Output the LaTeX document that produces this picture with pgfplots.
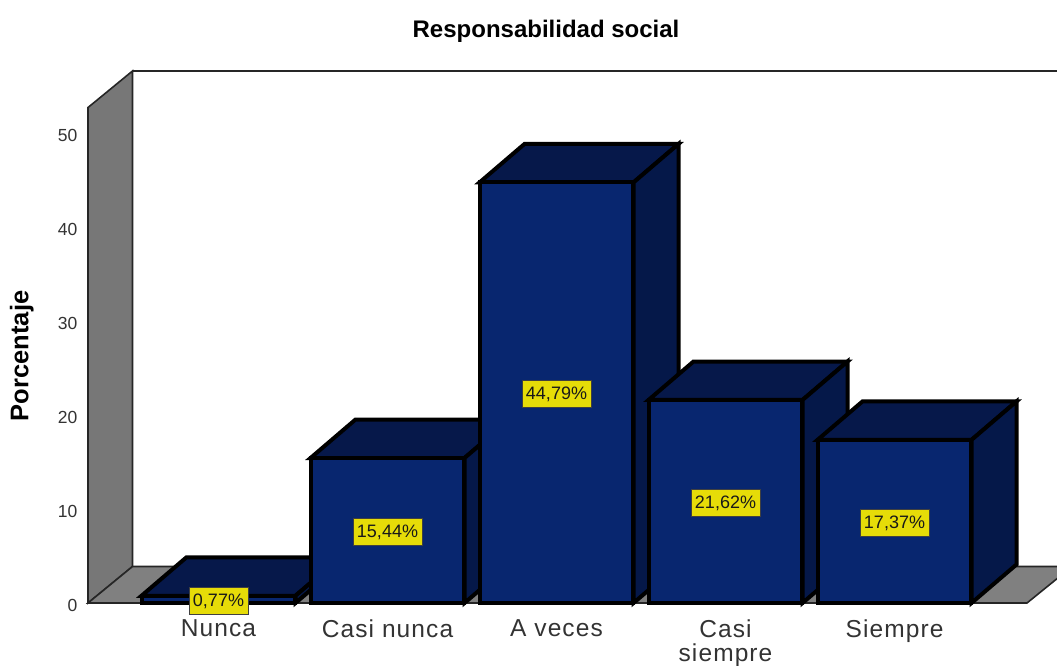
\documentclass[border=0pt]{standalone}
\usepackage{pgfplots}
\pgfplotsset{compat=1.18}
\usepackage{fontspec}
\setmainfont{Liberation Sans}
\newfontfamily\catfont[LetterSpace=4.5]{Liberation Sans}
\definecolor{barfront}{HTML}{08266F}
\definecolor{bartop}{HTML}{06184A}
\definecolor{barside}{HTML}{051849}
\definecolor{wallgray}{HTML}{777777}
\definecolor{floorgray}{HTML}{808080}
\definecolor{lblyellow}{HTML}{E6DC08}
\definecolor{tickgray}{HTML}{333333}
\pgfplotsset{
  front/.style={ybar, bar width=153.5pt, bar shift=0pt, fill=barfront, draw=black, line width=4pt},
  topface/.style={fill=bartop, draw=black, line width=4pt, mark=none},
  sideface/.style={fill=barside, draw=black, line width=4pt, mark=none},
}
\begin{document}
\begin{tikzpicture}
\begin{axis}[
    scale only axis,
    width=969pt, height=532pt,
    xmin=-0.7722, xmax=4.9615,
    ymin=0, ymax=56.66,
    clip=false,
    axis line style={draw=none},
    tick style={draw=none},
    xtick={0,1,2,3,4},
    xticklabels={Nunca,Casi nunca,A veces,{Casi\\siempre},Siempre},
    ytick={0,10,20,30,40,50},
    /pgf/number format/assume math mode=true,
    xticklabel style={font=\catfont\fontsize{24.5}{24}\selectfont, text=tickgray, align=center, anchor=north, yshift=-13pt},
    yticklabel style={font=\fontsize{17.5}{20}\selectfont, text=tickgray, anchor=east, xshift=-7pt, yshift=-2pt},
    ylabel={\textbf{Porcentaje}},
    every axis y label/.style={at={(axis description cs:-0.0682,0.4645)}, rotate=90, anchor=center, font=\fontsize{25.5}{28}\selectfont},
]
% walls and floor
\addplot[fill=wallgray, draw=black!85, line width=1.6pt, mark=none] coordinates {(-0.7722,0) (-0.5089,3.887) (-0.5089,56.66) (-0.7722,52.77)} -- cycle;
\addplot[fill=floorgray, draw=black!85, line width=1.6pt, mark=none] coordinates {(-0.7722,0) (-0.5089,3.887) (5.0503,3.887) (4.7840,0)} -- cycle;
\addplot[draw=black!85, line width=1.6pt, mark=none] coordinates {(-0.5089,56.66) (5.0503,56.66)};

% Nunca
\addplot[topface] coordinates {(-0.4556,0.77) (0.4556,0.77) (0.7219,4.87) (-0.1893,4.87)} -- cycle;
\addplot[sideface] coordinates {(0.4556,0) (0.7219,4.1) (0.7219,4.87) (0.4556,0.77)} -- cycle;
\addplot[front] coordinates {(0,0.77)};
% Casi nunca
\addplot[topface] coordinates {(0.5444,15.44) (1.4556,15.44) (1.7219,19.54) (0.8107,19.54)} -- cycle;
\addplot[sideface] coordinates {(1.4556,0) (1.7219,4.1) (1.7219,19.54) (1.4556,15.44)} -- cycle;
\addplot[front] coordinates {(1,15.44)};
% A veces
\addplot[topface] coordinates {(1.5444,44.79) (2.4556,44.79) (2.7219,48.89) (1.8107,48.89)} -- cycle;
\addplot[sideface] coordinates {(2.4556,0) (2.7219,4.1) (2.7219,48.89) (2.4556,44.79)} -- cycle;
\addplot[front] coordinates {(2,44.79)};
% Casi siempre
\addplot[topface] coordinates {(2.5444,21.62) (3.4556,21.62) (3.7219,25.72) (2.8107,25.72)} -- cycle;
\addplot[sideface] coordinates {(3.4556,0) (3.7219,4.1) (3.7219,25.72) (3.4556,21.62)} -- cycle;
\addplot[front] coordinates {(3,21.62)};
% Siempre
\addplot[topface] coordinates {(3.5444,17.37) (4.4556,17.37) (4.7219,21.47) (3.8107,21.47)} -- cycle;
\addplot[sideface] coordinates {(4.4556,0) (4.7219,4.1) (4.7219,21.47) (4.4556,17.37)} -- cycle;
\addplot[front] coordinates {(4,17.37)};

% value labels at half height
\addplot[draw=none, mark=none, point meta=explicit symbolic, nodes near coords,
    every node near coord/.style={anchor=center, yshift=-1.5pt, fill=lblyellow, draw=black!75, line width=0.8pt,
      text=black!90, font=\fontsize{18}{20}\selectfont, inner xsep=4pt, inner ysep=0pt, minimum height=27pt}]
  coordinates {(0,0.385) [0,77\%] (1,7.72) [15,44\%] (2,22.395) [44,79\%] (3,10.81) [21,62\%] (4,8.685) [17,37\%]};

\node[font=\bfseries\fontsize{24}{26}\selectfont] at (axis cs:1.938,60.9) {Responsabilidad social};
\end{axis}
\pgfresetboundingbox
\path[use as bounding box] (-88pt,-63pt) rectangle (969pt,603pt);
\end{tikzpicture}
\end{document}
